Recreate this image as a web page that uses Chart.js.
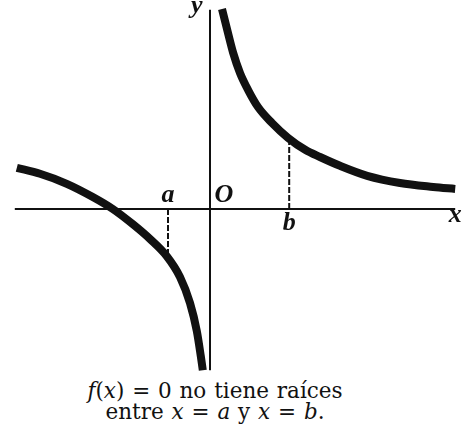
<!DOCTYPE html>
<html>
<head>
<meta charset="utf-8">
<script src="https://cdn.jsdelivr.net/npm/chart.js@4"></script>
<style>
  body { margin: 0; background: #fff; }
  #wrap { position: relative; width: 471px; height: 432px; }
  #box { position: absolute; left: 0; top: 0; width: 471px; height: 372px; }
  #caption {
    position: absolute; left: 0; top: 380px; width: 430px;
    text-align: center; font-family: "DejaVu Serif", serif;
    font-size: 21.5px; line-height: 21px; color: #111;
    word-spacing: 1px;
  }
</style>
</head>
<body>
<div id="wrap">
  <div id="box"><canvas id="graph"></canvas></div>
  <div id="caption"><i>f</i>(<i>x</i>) = 0 no tiene raíces<br>entre <i>x</i> = <i>a</i> y <i>x</i> = <i>b</i>.</div>
</div>
<script>
// left branch (x < 0) and right branch (x > 0)
const leftX = [-4.83, -4.25, -3.58, -2.93, -2.43, -1.93, -1.5, -1.08, -0.75, -0.5, -0.33, -0.23, -0.18];
const leftY = [1.03, 0.88, 0.63, 0.3, 0, -0.38, -0.75, -1.18, -1.7, -2.35, -3.05, -3.68, -4.03];
const rightX = [0.3, 0.45, 0.58, 0.75, 0.95, 1.2, 1.55, 1.95, 2.38, 2.75, 3.25, 3.93, 4.75, 5.58, 6.13];
const rightY = [5.0, 4.4, 3.9, 3.4, 2.98, 2.55, 2.15, 1.78, 1.48, 1.3, 1.08, 0.83, 0.65, 0.55, 0.5];

const xAxisEnds = [-4.88, 6.13];
const yAxisEnds = [-4.03, 4.98];
const aVal = -1.05, fa = -1.15;
const bVal = 1.98, fb = 1.75;

const labels = [
  { text: "y", x: -0.33, y: 4.9 },
  { text: "O", x: 0.35, y: 0.18 },
  { text: "a", x: -1.05, y: 0.18 },
  { text: "b", x: 1.98, y: -0.53 },
  { text: "x", x: 6.13, y: -0.33 }
];

const pts = (xs, ys) => xs.map((v, i) => ({ x: v, y: ys[i] }));

const textPlugin = {
  id: "axisText",
  afterDatasetsDraw(chart) {
    const c = chart.ctx;
    const sx = chart.scales.x, sy = chart.scales.y;
    c.save();
    c.font = "italic bold 26px 'Liberation Serif', serif";
    c.fillStyle = "#111";
    c.textAlign = "center";
    c.textBaseline = "alphabetic";
    labels.forEach(l => {
      c.fillText(l.text, sx.getPixelForValue(l.x), sy.getPixelForValue(l.y));
    });
    c.restore();
  }
};

let ctx = document.getElementById("graph").getContext("2d");
let graph = new Chart(ctx, {
  type: "scatter",
  data: {
    datasets: [
      {
        data: pts(xAxisEnds, [0, 0]),
        showLine: true, borderColor: "#111", borderWidth: 2, pointRadius: 0
      },
      {
        data: pts([0, 0], yAxisEnds),
        showLine: true, borderColor: "#111", borderWidth: 2, pointRadius: 0
      },
      {
        data: pts([aVal, aVal], [0, fa]),
        showLine: true, borderColor: "#111", borderWidth: 2, borderDash: [6, 2], pointRadius: 0
      },
      {
        data: pts([bVal, bVal], [fb, 0]),
        showLine: true, borderColor: "#111", borderWidth: 2, borderDash: [6, 2], pointRadius: 0
      },
      {
        data: pts(leftX, leftY),
        showLine: true, borderColor: "#111", borderWidth: 8, pointRadius: 0,
        cubicInterpolationMode: "monotone", borderCapStyle: "butt"
      },
      {
        data: pts(rightX, rightY),
        showLine: true, borderColor: "#111", borderWidth: 8, pointRadius: 0,
        cubicInterpolationMode: "monotone", borderCapStyle: "butt"
      }
    ]
  },
  options: {
    responsive: true,
    maintainAspectRatio: false,
    animation: false,
    layout: { padding: 0 },
    plugins: { legend: { display: false }, tooltip: { enabled: false } },
    scales: {
      x: { type: "linear", min: -5.25, max: 6.525, display: false },
      y: { type: "linear", min: -4.075, max: 5.225, display: false }
    }
  },
  plugins: [textPlugin]
});
</script>
</body>
</html>
